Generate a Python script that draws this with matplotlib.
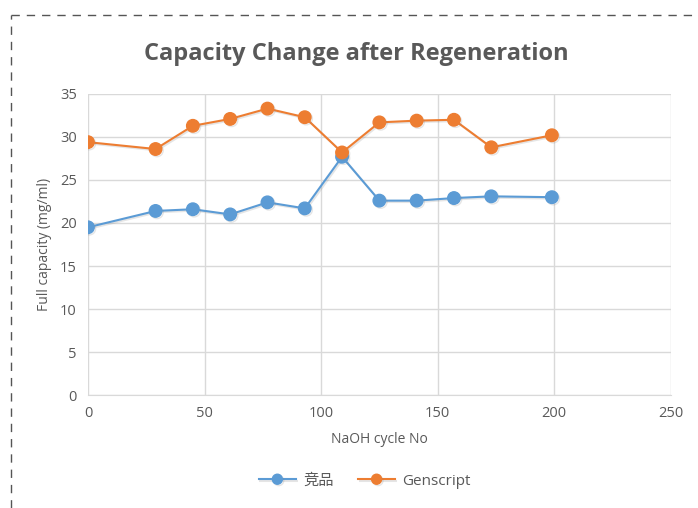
import matplotlib.pyplot as plt
import matplotlib.patheffects as pe
from matplotlib.lines import Line2D

plt.rcParams['font.family'] = ['Open Sans', 'Noto Sans CJK SC', 'DejaVu Sans']

# NaOH cycle numbers and full capacity (mg/ml)
cycles = [0, 29, 45, 61, 77, 93, 109, 125, 141, 157, 173, 199]
competitor = [19.5, 21.4, 21.6, 21.0, 22.4, 21.7, 27.7, 22.6, 22.6, 22.9, 23.1, 23.0]
genscript = [29.4, 28.6, 31.3, 32.1, 33.3, 32.3, 28.2, 31.7, 31.9, 32.0, 28.8, 30.2]
series_names = ['竞品', 'Genscript']

blue = '#5B9BD5'
orange = '#ED7D31'
text_gray = '#595959'
grid_gray = '#D9D9D9'

fig = plt.figure(figsize=(6.98, 5.08), dpi=100)
ax = fig.add_axes([0.126, 0.2224, 0.835, 0.5926])

shadow = [pe.SimpleLineShadow(offset=(1.0, -1.0), shadow_color='gray', alpha=0.2), pe.Normal()]
ax.plot(cycles, competitor, color=blue, lw=1.5, marker='o', markersize=9,
        label=series_names[0], path_effects=shadow, zorder=3)
ax.plot(cycles, genscript, color=orange, lw=1.5, marker='o', markersize=9,
        label=series_names[1], path_effects=shadow, zorder=3)

ax.set_xlim(0, 250)
ax.set_ylim(0, 35)
ax.set_xticks(range(0, 251, 50))
ax.set_yticks(range(0, 36, 5))
ax.grid(True, color=grid_gray, lw=1)
ax.set_axisbelow(True)
for s in ['top', 'right', 'left']:
    ax.spines[s].set_visible(False)
ax.spines['bottom'].set_color(grid_gray)
ax.tick_params(length=0, labelsize=10.5, labelcolor=text_gray, pad=8)

ax.set_xlabel('NaOH cycle No', fontsize=10, color=text_gray, labelpad=8)
ax.set_ylabel('Full capacity (mg/ml)', fontsize=10, color=text_gray, labelpad=6)
fig.text(0.511, 0.893, 'Capacity Change after Regeneration', ha='center', va='center',
         fontsize=17, fontweight='bold', color=text_gray)

fig.legend(loc='center', bbox_to_anchor=(0.523, 0.053), ncol=2, frameon=False,
           fontsize=11, labelcolor=text_gray, handlelength=2.4, columnspacing=1.6,
           markerscale=0.8, handletextpad=0.5)

# dashed frame of the original chart (clipped at right and bottom)
fig.add_artist(Line2D([0.016, 1.0], [0.970, 0.970], transform=fig.transFigure,
                      color='#555555', lw=1, ls=(0, (6, 5))))
fig.add_artist(Line2D([0.016, 0.016], [0.0, 0.970], transform=fig.transFigure,
                      color='#555555', lw=1, ls=(0, (6, 5))))

fig.savefig('out.png', dpi=100)
